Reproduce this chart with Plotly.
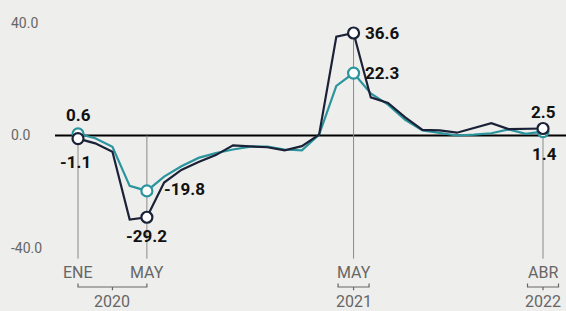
import plotly.graph_objects as go

months = ["ENE 2020", "FEB 2020", "MAR 2020", "ABR 2020", "MAY 2020", "JUN 2020",
          "JUL 2020", "AGO 2020", "SEP 2020", "OCT 2020", "NOV 2020", "DIC 2020",
          "ENE 2021", "FEB 2021", "MAR 2021", "ABR 2021", "MAY 2021", "JUN 2021",
          "JUL 2021", "AGO 2021", "SEP 2021", "OCT 2021", "NOV 2021", "DIC 2021",
          "ENE 2022", "FEB 2022", "MAR 2022", "ABR 2022"]
serie_oscura = [-1.1, -2.8, -5.8, -30.0, -29.2, -16.8, -12.3, -9.5, -7.0, -3.5, -3.9, -4.2,
                -5.3, -3.8, 0.3, 35.3, 36.6, 13.6, 11.6, 6.5, 2.0, 1.8, 1.0, 2.6,
                4.4, 2.3, 2.4, 2.5]
serie_verde = [0.6, -1.0, -4.0, -18.0, -19.8, -14.7, -11.0, -8.0, -6.3, -5.0, -4.0, -4.0,
               -5.0, -5.3, 0.3, 17.7, 22.3, 15.0, 11.0, 5.6, 1.8, 1.0, 0.0, 0.3,
               0.8, 2.2, 0.6, 1.4]
marcados = [0, 4, 16, 27]
yticks = [40, 0, -40]
ytick_text = ["40.0", "0.0", "-40.0"]
eje_meses = [(0, "ENE"), (4, "MAY"), (16, "MAY"), (27, "ABR")]
eje_anios = [(2, "2020"), (16, "2021"), (27, "2022")]

DARK = "#1b2238"
TEAL = "#2b949d"
BG = "#eeeeec"
GREY = "#666666"

x = list(range(len(months)))
fig = go.Figure()

fig.add_trace(go.Scatter(x=x, y=serie_verde, mode="lines",
                         line=dict(color=TEAL, width=2.2), hoverinfo="skip"))
fig.add_trace(go.Scatter(x=x, y=serie_oscura, mode="lines",
                         line=dict(color=DARK, width=2.2), hoverinfo="skip"))
fig.add_trace(go.Scatter(x=marcados, y=[serie_verde[i] for i in marcados], mode="markers",
                         marker=dict(size=11, color="white", line=dict(color=TEAL, width=2.2)),
                         hoverinfo="skip"))
fig.add_trace(go.Scatter(x=marcados, y=[serie_oscura[i] for i in marcados], mode="markers",
                         marker=dict(size=11, color="white", line=dict(color=DARK, width=2.2)),
                         hoverinfo="skip"))

shapes = []
# zero line
shapes.append(dict(type="line", xref="x", yref="y", x0=-1.335, x1=28.5, y0=0, y1=0,
                   line=dict(color="black", width=2), layer="below"))
# vertical guide lines
for i, top in [(0, 0), (4, 0), (16, serie_oscura[16]), (27, serie_oscura[27])]:
    shapes.append(dict(type="line", xref="x", yref="y", x0=i, x1=i, y0=top, y1=-44,
                       line=dict(color="#8a8a8a", width=1), layer="below"))
# brackets
def bracket(xa, xb):
    xm = (xa + xb) / 2
    yb = -54.1
    return dict(type="path", xref="x", yref="y",
                path=f"M {xa},{yb+1.2} L {xa},{yb} L {xb},{yb} L {xb},{yb+1.2} M {xm},{yb} L {xm},{yb-1.2}",
                line=dict(color=GREY, width=1.2))
shapes.append(bracket(0, 4))
shapes.append(bracket(15.1, 16.9))
shapes.append(bracket(26.1, 27.9))

ann = []
for v, t in zip(yticks, ytick_text):
    ann.append(dict(xref="paper", yref="y", x=9/566, y=v, text=t, showarrow=False,
                    xanchor="left", yanchor="middle",
                    font=dict(family="Roboto", size=14, color=GREY)))
for i, t in eje_meses:
    ann.append(dict(x=i, y=-48.8, text=t, showarrow=False, xanchor="center", yanchor="middle",
                    font=dict(family="Roboto", size=16, color=GREY)))
for i, t in eje_anios:
    ann.append(dict(x=i, y=-59.3, text=t, showarrow=False, xanchor="center", yanchor="middle",
                    font=dict(family="Roboto", size=16, color=GREY)))

bold = dict(family="Roboto", size=17, color="#111111")
def lab(i, y, text, xanchor="center", xs=0, ys=0):
    ann.append(dict(x=i, y=y, text=f"<b>{text}</b>", showarrow=False, xanchor=xanchor,
                    yanchor="middle", xshift=xs, yshift=ys, font=bold))
lab(0, serie_verde[0], "0.6", ys=19)
lab(0, serie_oscura[0], "-1.1", xs=-3, ys=-23)
lab(4, serie_verde[4], "-19.8", xanchor="left", xs=15, ys=2)
lab(4, serie_oscura[4], "-29.2", ys=-19)
lab(16, serie_oscura[16], "36.6", xanchor="left", xs=9, ys=0)
lab(16, serie_verde[16], "22.3", xanchor="left", xs=9, ys=0)
lab(27, serie_oscura[27], "2.5", ys=16)
lab(27, serie_verde[27], "1.4", xs=1, ys=-22)

fig.update_layout(
    width=566, height=311,
    margin=dict(l=0, r=0, t=0, b=0),
    paper_bgcolor=BG, plot_bgcolor=BG,
    showlegend=False,
    xaxis=dict(range=[-4.529, 28.335], visible=False, fixedrange=True),
    yaxis=dict(range=[-62.68, 48.39], visible=False, fixedrange=True),
    shapes=shapes, annotations=ann,
)
fig.write_html("out.html", config={"displayModeBar": False},
               post_script="document.body.style.margin='0';document.body.style.padding='0';"
                           "document.body.style.overflow='hidden';"
                           "document.documentElement.style.overflow='hidden';")
